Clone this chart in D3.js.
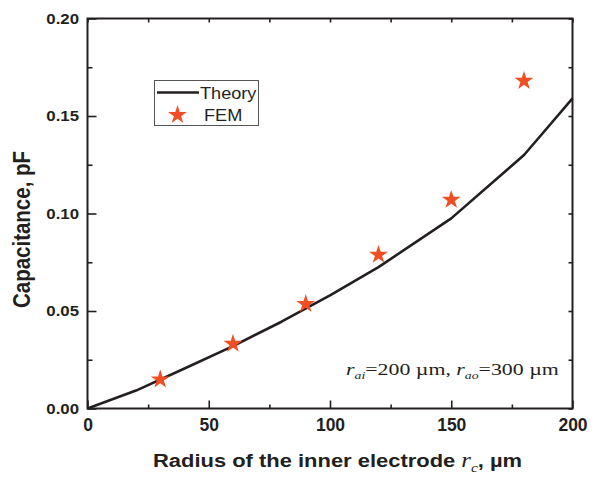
<!DOCTYPE html>
<html>
<head>
<meta charset="utf-8">
<script src="https://cdn.jsdelivr.net/npm/d3@7"></script>
<style>
    body { margin: 0; background: #fff; }
    svg { display: block; }
</style>
</head>
<body>
<svg id="chart" width="598" height="479"></svg>
<script>
'use strict';

// theory curve (radius in um, capacitance in pF)
var theoryR = [0, 20, 40, 60, 80, 100, 120, 150, 180, 190, 200];
var theoryC = [0, 0.0092, 0.0205, 0.032, 0.0445, 0.058, 0.0725, 0.0975, 0.130, 0.1445, 0.159];

// FEM results
var femR = [30, 60, 90, 120, 150, 180];
var femC = [0.0149, 0.0332, 0.0536, 0.0788, 0.107, 0.168];

var xMajor = [0, 50, 100, 150, 200];
var xMinor = [25, 75, 125, 175];
var yMajor = [0, 0.05, 0.10, 0.15, 0.20];
var yMinor = [0.025, 0.075, 0.125, 0.175];

var ink = '#231f20';
var starColor = '#f04e23';

var svg = d3.select('#chart');
var plotLeft = 87.5, plotRight = 572.5, plotTop = 18.5, plotBottom = 408.5;

var x = d3.scaleLinear().domain([0, 200]).range([plotLeft, plotRight]);
var y = d3.scaleLinear().domain([0, 0.2]).range([plotBottom, plotTop]);

// theory line
var line = d3.line()
    .x(function(d) { return x(d[0]); })
    .y(function(d) { return y(d[1]); });

svg.append('path')
    .datum(d3.zip(theoryR, theoryC))
    .attr('d', line)
    .attr('fill', 'none')
    .attr('stroke', ink)
    .attr('stroke-width', 2.6)
    .attr('stroke-linejoin', 'round');

// FEM stars
var star = d3.symbol().type(d3.symbolStar).size(110);
svg.selectAll('.fem')
    .data(d3.zip(femR, femC))
    .enter().append('path')
    .attr('class', 'fem')
    .attr('d', star)
    .attr('fill', starColor)
    .attr('transform', function(d) { return 'translate(' + x(d[0]) + ',' + y(d[1]) + ')'; });

// axes (ticks point inward)
function styleAxis(g) {
    g.select('.domain').remove();
    g.selectAll('line').attr('stroke', ink).attr('stroke-width', 1.6);
}

svg.append('g')
    .attr('transform', 'translate(0,' + plotBottom + ')')
    .call(d3.axisBottom(x).tickValues(xMajor).tickSize(-8).tickPadding(10).tickFormat(d3.format('d')))
    .call(styleAxis)
    .selectAll('text')
    .attr('fill', ink)
    .style('font', 'bold 17.5px "Liberation Sans", Arial, sans-serif');

svg.append('g')
    .attr('transform', 'translate(0,' + plotBottom + ')')
    .call(d3.axisBottom(x).tickValues(xMinor).tickSize(-4).tickFormat(''))
    .call(styleAxis);

var yAxis = svg.append('g')
    .attr('transform', 'translate(' + plotLeft + ',0)')
    .call(d3.axisLeft(y).tickValues(yMajor).tickSize(-9).tickFormat(d3.format('.2f')))
    .call(styleAxis);
yAxis.selectAll('text')
    .attr('x', null)
    .attr('transform', 'translate(-8.5,0) scale(1.12,1)')
    .attr('fill', ink)
    .style('font', 'bold 15px "Liberation Sans", Arial, sans-serif');

svg.append('g')
    .attr('transform', 'translate(' + plotLeft + ',0)')
    .call(d3.axisLeft(y).tickValues(yMinor).tickSize(-5).tickFormat(''))
    .call(styleAxis);

svg.append('g')
    .attr('transform', 'translate(0,' + plotTop + ')')
    .call(d3.axisTop(x).tickValues(xMajor.concat(xMinor)).tickSize(-4).tickFormat(''))
    .call(styleAxis);

svg.append('g')
    .attr('transform', 'translate(' + plotRight + ',0)')
    .call(d3.axisRight(y).tickValues(yMajor.concat(yMinor)).tickSize(-4).tickFormat(''))
    .call(styleAxis);

// frame
svg.append('rect')
    .attr('x', plotLeft)
    .attr('y', plotTop)
    .attr('width', plotRight - plotLeft)
    .attr('height', plotBottom - plotTop)
    .attr('fill', 'none')
    .attr('stroke', ink)
    .attr('stroke-width', 2);

// axis titles
var xTitle = svg.append('text')
    .attr('transform', 'translate(153,466.5) scale(1.18,1)')
    .attr('fill', ink)
    .style('font', 'bold 18.6px "Liberation Sans", Arial, sans-serif');
xTitle.append('tspan').text('Radius of the inner electrode ');
xTitle.append('tspan')
    .style('font', 'italic 21px "Liberation Serif", "Times New Roman", serif')
    .text('r');
xTitle.append('tspan')
    .attr('dy', 5)
    .style('font', 'italic 13px "Liberation Serif", "Times New Roman", serif')
    .text('c');
xTitle.append('tspan')
    .attr('dy', -5)
    .text(', \u00b5m');

svg.append('text')
    .attr('transform', 'translate(30,229.5) rotate(-90) scale(1,1.15)')
    .attr('text-anchor', 'middle')
    .attr('fill', ink)
    .style('font', 'bold 20.5px "Liberation Sans", Arial, sans-serif')
    .text('Capacitance, pF');

// annotation
var note = svg.append('text')
    .attr('transform', 'translate(346,375) scale(1.25,1)')
    .attr('fill', ink)
    .style('font', '17.5px "Liberation Serif", "Times New Roman", serif');
note.append('tspan').style('font-style', 'italic').text('r');
note.append('tspan').attr('dy', 4).style('font-style', 'italic').style('font-size', '11px').text('ai');
note.append('tspan').attr('dy', -4).text('=200 \u00b5m, ');
note.append('tspan').style('font-style', 'italic').text('r');
note.append('tspan').attr('dy', 4).style('font-style', 'italic').style('font-size', '11px').text('ao');
note.append('tspan').attr('dy', -4).text('=300 \u00b5m');

// legend
var legend = svg.append('g');
legend.append('rect')
    .attr('x', 154.5)
    .attr('y', 80.5)
    .attr('width', 104)
    .attr('height', 45)
    .attr('fill', '#fff')
    .attr('stroke', '#555')
    .attr('stroke-width', 1);
legend.append('line')
    .attr('x1', 157).attr('x2', 199)
    .attr('y1', 92.5).attr('y2', 92.5)
    .attr('stroke', ink)
    .attr('stroke-width', 2.6);
legend.append('path')
    .attr('d', star)
    .attr('fill', starColor)
    .attr('transform', 'translate(177.5,115)');
legend.append('text')
    .attr('transform', 'translate(200,98.5) scale(1.1,1)')
    .attr('fill', ink)
    .style('font', '16.5px "Liberation Sans", Arial, sans-serif')
    .text('Theory');
legend.append('text')
    .attr('transform', 'translate(204,120.5) scale(1.1,1)')
    .attr('fill', ink)
    .style('font', '16.5px "Liberation Sans", Arial, sans-serif')
    .text('FEM');
</script>
</body>
</html>
